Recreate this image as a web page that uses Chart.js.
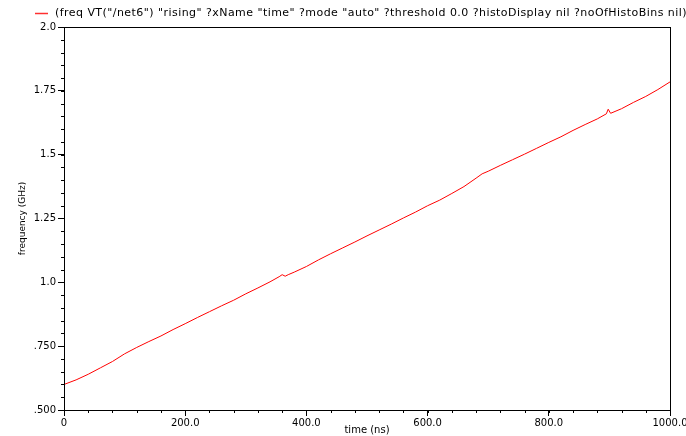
<!DOCTYPE html>
<html>
<head>
<meta charset="utf-8">
<script src="https://cdn.jsdelivr.net/npm/chart.js@4/dist/chart.umd.min.js"></script>
<style>
  html, body { margin: 0; padding: 0; background: #fff; }
  #wrap { width: 686px; height: 436px; }
</style>
</head>
<body>
<div id="wrap"><canvas id="freqChart" width="686" height="436"></canvas></div>
<script>
const seriesLabel = '(freq VT("/net6") "rising" ?xName "time" ?mode "auto" ?threshold 0.0 ?histoDisplay nil ?noOfHistoBins nil)';

// time (ns) and measured frequency (GHz)
const timeNs = [0, 20, 40, 60, 80, 100, 120, 140, 160, 180, 200, 220, 240, 260, 280, 300, 320, 340, 355, 360, 365, 370, 380,
  400, 420, 440, 460, 480, 500, 520, 540, 560, 580, 600, 620, 640, 660, 680, 690, 700, 720, 740, 760, 780,
  800, 820, 840, 860, 880, 895, 898, 902, 920, 940, 960, 980, 1000];
const freqGHz = [0.600, 0.618, 0.640, 0.665, 0.690, 0.720, 0.745, 0.768, 0.790, 0.815, 0.838, 0.862, 0.885, 0.908, 0.930, 0.955, 0.978, 1.002, 1.022, 1.030, 1.024, 1.030, 1.040,
  1.062, 1.088, 1.112, 1.135, 1.158, 1.182, 1.205, 1.228, 1.252, 1.275, 1.300, 1.322, 1.348, 1.375, 1.408, 1.425, 1.435, 1.458, 1.480, 1.502, 1.525,
  1.548, 1.570, 1.595, 1.618, 1.640, 1.660, 1.678, 1.662, 1.680, 1.705, 1.728, 1.755, 1.785];

const xTickValues = [0, 200, 400, 600, 800, 1000];
const xTickLabels = ['0', '200.0', '400.0', '600.0', '800.0', '1000.0'];
const yTickValues = [0.5, 0.75, 1.0, 1.25, 1.5, 1.75, 2.0];
const yTickLabels = ['.500', '.750', '1.0', '1.25', '1.5', '1.75', '2.0'];
const xMinorStep = 40;
const yMinorStep = 0.05;

const FONT = 'DejaVu Sans';

const labelFor = (values, labels, v) => {
  const i = values.findIndex((t) => Math.abs(t - v) < 1e-6);
  return i >= 0 ? labels[i] : '';
};

// keep the plot box fixed, let the last label run off the edge
const noEdgePadding = (s) => {
  s.paddingLeft = 0;
  s.paddingRight = 0;
  s.paddingTop = 0;
  s.paddingBottom = 0;
};

// frame, minor ticks and the legend entry
const framePlugin = {
  id: 'frame',
  afterDraw(chart) {
    const ctx = chart.ctx;
    const a = chart.chartArea;
    const xs = chart.scales.x;
    const ys = chart.scales.y;
    ctx.save();
    ctx.strokeStyle = '#000';
    ctx.lineWidth = 1;
    ctx.strokeRect(Math.round(a.left) + 0.5, Math.round(a.top) + 0.5,
      Math.round(a.right - a.left), Math.round(a.bottom - a.top));

    ctx.beginPath();
    for (let v = xs.min; v <= xs.max + 1e-6; v += xMinorStep) {
      const px = Math.round(xs.getPixelForValue(v)) + 0.5;
      ctx.moveTo(px, a.bottom);
      ctx.lineTo(px, a.bottom + 3);
    }
    for (let v = ys.min; v <= ys.max + 1e-6; v += yMinorStep) {
      const py = Math.round(ys.getPixelForValue(v)) + 0.5;
      ctx.moveTo(a.left, py);
      ctx.lineTo(a.left - 3, py);
    }
    ctx.stroke();

    // legend
    ctx.strokeStyle = '#ff3030';
    ctx.lineWidth = 1.5;
    ctx.beginPath();
    ctx.moveTo(35, 13.5);
    ctx.lineTo(48, 13.5);
    ctx.stroke();
    ctx.fillStyle = '#000';
    ctx.font = '11px "' + FONT + '"';
    ctx.letterSpacing = '0.45px';
    ctx.textBaseline = 'middle';
    ctx.fillText(chart.data.datasets[0].label, 55, 13);
    ctx.restore();
  }
};

new Chart(document.getElementById('freqChart'), {
  type: 'line',
  data: {
    datasets: [{
      label: seriesLabel,
      data: timeNs.map((t, i) => ({ x: t, y: freqGHz[i] })),
      borderColor: '#ff0000',
      borderWidth: 1,
      pointRadius: 0,
      tension: 0,
      fill: false
    }]
  },
  options: {
    responsive: false,
    animation: false,
    layout: { padding: { left: 0, right: 16, top: 27, bottom: 0 } },
    plugins: {
      legend: { display: false },
      tooltip: { enabled: false }
    },
    scales: {
      x: {
        type: 'linear',
        min: 0,
        max: 1000,
        afterFit: (s) => { s.height = 26; noEdgePadding(s); },
        afterBuildTicks: (s) => { s.ticks = xTickValues.map((v) => ({ value: v })); },
        ticks: {
          color: '#000',
          padding: 1,
          maxRotation: 0,
          autoSkip: false,
          font: { family: FONT, size: 10 },
          callback: (v) => labelFor(xTickValues, xTickLabels, v)
        },
        grid: { drawOnChartArea: false, tickLength: 6, color: '#000' },
        border: { color: '#000' },
        title: {
          display: true,
          text: 'time (ns)',
          color: '#000',
          padding: { top: 0, bottom: 0 },
          font: { family: FONT, size: 10 }
        }
      },
      y: {
        type: 'linear',
        min: 0.5,
        max: 2.0,
        afterFit: (s) => { s.width = 64; noEdgePadding(s); },
        afterBuildTicks: (s) => { s.ticks = yTickValues.map((v) => ({ value: v })); },
        ticks: {
          color: '#000',
          padding: 2,
          autoSkip: false,
          font: { family: FONT, size: 10 },
          callback: (v) => labelFor(yTickValues, yTickLabels, v)
        },
        grid: { drawOnChartArea: false, tickLength: 6, color: '#000' },
        border: { color: '#000' },
        title: {
          display: true,
          text: 'frequency (GHz)',
          color: '#000',
          padding: { top: 17, bottom: 0 },
          font: { family: FONT, size: 9 }
        }
      }
    }
  },
  plugins: [framePlugin]
});
</script>
</body>
</html>
